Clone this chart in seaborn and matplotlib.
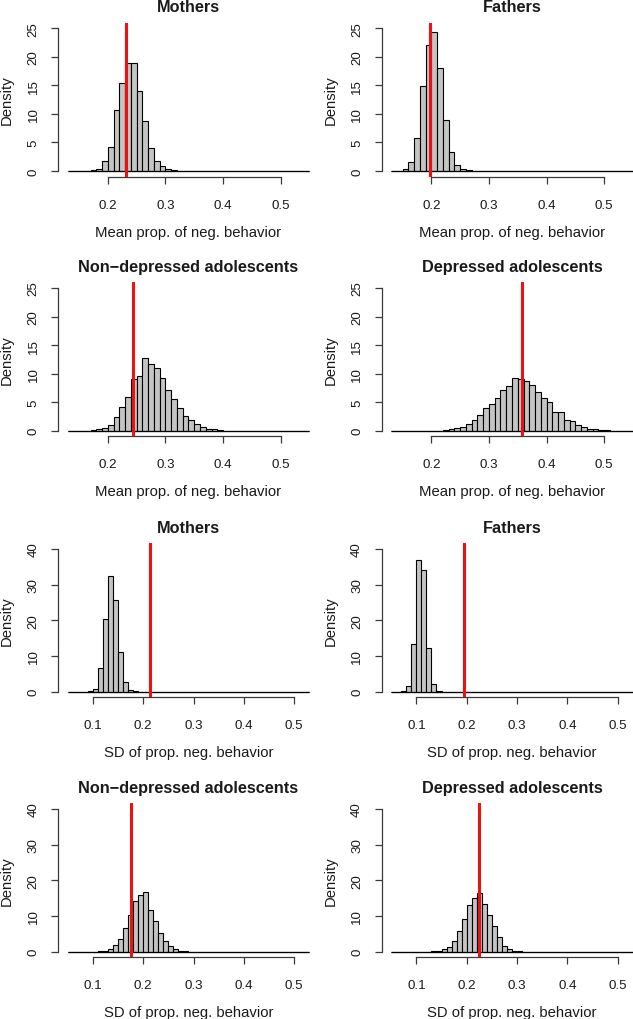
import numpy as np
import pandas as pd
import matplotlib
matplotlib.use("Agg")
import matplotlib.pyplot as plt
import seaborn as sns

# Posterior predictive densities (bin width 0.01)
# Mean proportion of negative behavior
mean_mothers_start = 0.17
mean_mothers_dens = [0.1, 0.3, 1.8, 4.2, 10.6, 15.4, 19.0, 19.0, 14.0, 8.8, 4.1, 1.8, 0.8, 0.3, 0.1]
mean_mothers_obs = 0.231

mean_fathers_start = 0.15
mean_fathers_dens = [0.3, 1.5, 5.8, 14.8, 22.0, 24.3, 18.0, 9.0, 3.4, 1.0, 0.3, 0.1]
mean_fathers_obs = 0.197

mean_nondep_start = 0.17
mean_nondep_dens = [0.1, 0.2, 0.5, 0.9, 2.3, 4.1, 5.9, 9.1, 9.6, 12.8, 11.7, 11.0, 9.3, 7.2,
                    5.6, 3.9, 2.5, 1.8, 1.1, 0.6, 0.3, 0.2, 0.1]
mean_nondep_obs = 0.243

mean_dep_start = 0.22
mean_dep_dens = [0.1, 0.2, 0.4, 0.6, 1.2, 1.9, 2.8, 3.9, 4.7, 5.7, 7.2, 7.9, 9.3, 9.1, 8.7,
                 8.0, 6.7, 5.8, 5.0, 3.3, 3.3, 1.9, 1.6, 1.0, 0.6, 0.3, 0.2, 0.1, 0.05]
mean_dep_obs = 0.358

# SD of proportion of negative behavior
sd_mothers_start = 0.09
sd_mothers_dens = [0.2, 0.8, 6.7, 20.5, 32.5, 25.7, 11.0, 2.8, 0.4, 0.1]
sd_mothers_obs = 0.213

sd_fathers_start = 0.07
sd_fathers_dens = [0.2, 1.7, 13.4, 37.0, 34.0, 12.3, 2.0, 0.3]
sd_fathers_obs = 0.194

sd_nondep_start = 0.11
sd_nondep_dens = [0.1, 0.3, 0.8, 1.9, 3.5, 6.6, 10.2, 14.1, 16.0, 16.7, 11.7, 8.7, 5.3, 3.1,
                  1.6, 0.6, 0.2, 0.1]
sd_nondep_obs = 0.175

sd_dep_start = 0.13
sd_dep_dens = [0.1, 0.3, 0.6, 1.4, 2.9, 5.8, 9.2, 13.2, 15.0, 16.3, 13.4, 10.3, 7.3, 4.1,
               1.7, 0.8, 0.3, 0.1]
sd_dep_obs = 0.225

titles = ["Mothers", "Fathers", "Non\u2212depressed adolescents", "Depressed adolescents"] * 2
xlabels = ["Mean prop. of neg. behavior"] * 4 + ["SD of prop. neg. behavior"] * 4

mean_breaks = (0.13, 0.55)
sd_breaks = (0.05, 0.53)
mean_xticks = [0.2, 0.3, 0.4, 0.5]
sd_xticks = [0.1, 0.2, 0.3, 0.4, 0.5]
mean_yticks = [0, 5, 10, 15, 20, 25]
sd_yticks = [0, 10, 20, 30, 40]

panels = [
    (mean_mothers_start, mean_mothers_dens, mean_mothers_obs),
    (mean_fathers_start, mean_fathers_dens, mean_fathers_obs),
    (mean_nondep_start, mean_nondep_dens, mean_nondep_obs),
    (mean_dep_start, mean_dep_dens, mean_dep_obs),
    (sd_mothers_start, sd_mothers_dens, sd_mothers_obs),
    (sd_fathers_start, sd_fathers_dens, sd_fathers_obs),
    (sd_nondep_start, sd_nondep_dens, sd_nondep_obs),
    (sd_dep_start, sd_dep_dens, sd_dep_obs),
]

sns.set_style("white")
plt.rcParams["font.family"] = ["Liberation Sans", "DejaVu Sans"]

W, H = 633, 1020
fig = plt.figure(figsize=(W / 100, H / 100), dpi=100)

col_left = [58, 381.5]
row_top = [23.6, 283.3, 544.3, 804.3]
ax_w, ax_h = 261, 154
BIN = 0.01
INK = "#1a1a1a"
AXC = "#3a3a3a"

for i, (start, dens, obs) in enumerate(panels):
    r, c = divmod(i, 2)
    ax = fig.add_axes([col_left[c] / W, 1 - (row_top[r] + ax_h) / H, ax_w / W, ax_h / H])

    is_mean = i < 4
    lo, hi = mean_breaks if is_mean else sd_breaks
    xticks = mean_xticks if is_mean else sd_xticks
    yticks = mean_yticks if is_mean else sd_yticks

    edges = [round(v, 3) for v in np.arange(lo, hi + BIN / 2, BIN)]
    centers = start + BIN * (np.arange(len(dens)) + 0.5)
    df = pd.DataFrame({"x": centers, "density": dens})

    sns.histplot(data=df, x="x", weights="density", bins=edges, stat="count",
                 color="#c4c4c4", edgecolor="black", linewidth=0.8, alpha=1, ax=ax)
    # empty bins of the histogram show as a flat line along zero
    ax.hlines(0, edges[0], edges[-1], color="black", lw=0.9, zorder=3)
    ax.axvline(obs, color="#ee1111", lw=2.2, zorder=5)

    # R-style plotting region: limits padded by 4 %
    xr = hi - lo
    ax.set_xlim(lo - 0.04 * xr, hi + 0.04 * xr)
    yr = yticks[-1]
    ax.set_ylim(-0.04 * yr, yr * 1.04)

    ax.set_xticks(xticks)
    ax.set_xticklabels([f"{t:.1f}" for t in xticks])
    ax.set_yticks(yticks)
    ax.set_yticklabels([str(t) for t in yticks])

    for side in ["top", "right"]:
        ax.spines[side].set_visible(False)
    ax.spines["bottom"].set_bounds(xticks[0], xticks[-1])
    ax.spines["left"].set_bounds(yticks[0], yticks[-1])
    for side in ["bottom", "left"]:
        ax.spines[side].set_color(AXC)
        ax.spines[side].set_linewidth(0.9)

    ax.tick_params(axis="x", bottom=True, length=4.8, width=0.9, color=AXC, pad=11,
                   labelsize=9.6, labelcolor=INK)
    ax.tick_params(axis="y", left=True, length=4.8, width=0.9, color=AXC, pad=8.5,
                   labelsize=9.6, labelcolor=INK, labelrotation=90)
    for lab in ax.get_yticklabels():
        lab.set_va("center")

    ax.set_title(titles[i], fontsize=11.7, fontweight="bold", color=INK, pad=8)
    ax.set_xlabel(xlabels[i], fontsize=10.7, color=INK)
    ax.xaxis.set_label_coords(0.5, -48 / ax_h)
    ax.set_ylabel("Density", fontsize=10.7, color=INK)
    ax.yaxis.set_label_coords(-44 / ax_w, 0.5)
    ax.grid(False)

fig.savefig("out.png", dpi=100)
